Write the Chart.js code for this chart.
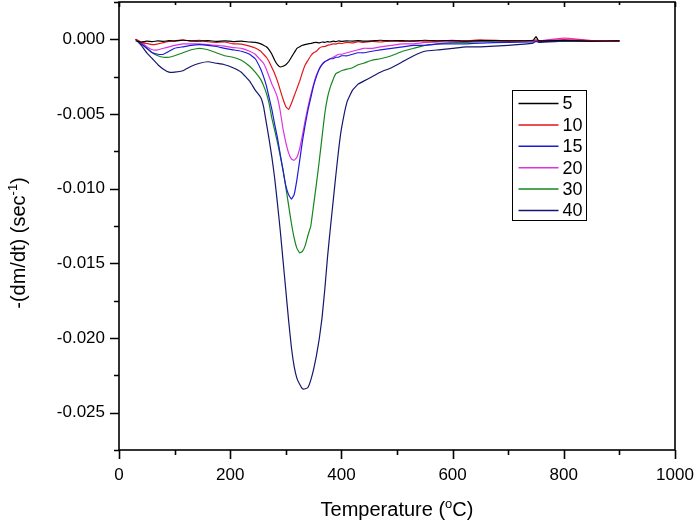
<!DOCTYPE html>
<html>
<head>
<meta charset="utf-8">
<title>DTG curves</title>
<script src="https://cdn.jsdelivr.net/npm/chart.js@4/dist/chart.umd.min.js"></script>
<style>
  html, body { margin: 0; padding: 0; background: #fff; }
  #wrap { width: 694px; height: 523px; }
</style>
</head>
<body>
<div id="wrap"><canvas id="dtg" width="694" height="523"></canvas></div>
<script>
/* DTG: -(dm/dt) vs temperature, six heating-rate runs */

// temperature grid (°C)
const temps = [
  30, 40, 50, 60, 70, 80, 90, 100, 115, 130,
  145, 160, 175, 190, 205, 220, 235, 245, 255, 260,
  265, 270, 275, 280, 285, 290, 295, 300, 305, 310,
  315, 320, 325, 330, 335, 340, 345, 350, 355, 360,
  365, 370, 375, 380, 385, 390, 395, 400, 410, 420,
  430, 440, 455, 470, 490, 510, 530, 550, 575, 600,
  625, 650, 700, 745, 750, 755, 800, 850, 900
];

const rate5 = [
  -0.0001, -0.00018, -0.00012, -0.00016, -0.0001, -0.00014, -0.00008, -0.00012, -0.00006, -0.0001,
  -0.00012, -0.00008, -0.00014, -0.0001, -0.00015, -0.00012, -0.00018, -0.0002, -0.0003, -0.0004,
  -0.0005, -0.0007, -0.001, -0.0014, -0.0017, -0.00185, -0.0018, -0.0017, -0.0015, -0.0012,
  -0.0009, -0.0006, -0.0005, -0.0004, -0.00035, -0.0003, -0.00028, -0.00022, -0.0002, -0.00024,
  -0.00018, -0.0002, -0.00015, -0.00018, -0.00012, -0.00016, -0.0001, -0.00014, -0.0001, -0.00012,
  -0.00008, -0.00012, -0.0001, -0.00006, -0.0001, -0.00008, -0.00012, -0.00006, -0.0001, -0.00008,
  -0.00012, -0.00008, -0.0001, -0.00006, 0.00018, -0.0001, -0.00008, -0.00012, -0.0001
];

const rate10 = [
  0, -0.0002, -0.00028, -0.00036, -0.0003, -0.00022, -0.00014, -0.0001, -0.00004, -0.00012,
  -0.00006, -0.00016, -0.0002, -0.00018, -0.0003, -0.00032, -0.00045, -0.00058, -0.0008, -0.001,
  -0.0012, -0.0015, -0.0019, -0.0023, -0.0028, -0.0034, -0.004, -0.0045, -0.0047, -0.0043,
  -0.0038, -0.0033, -0.0028, -0.0022, -0.0017, -0.0014, -0.0011, -0.0009, -0.0008, -0.0006,
  -0.0005, -0.00048, -0.0004, -0.00036, -0.0003, -0.00032, -0.00026, -0.00028, -0.0002, -0.00024,
  -0.00016, -0.0002, -0.00014, -0.00018, -0.0001, -0.00014, -0.00008, -0.00012, -0.0001, -0.00006,
  -0.0001, -0.00004, -0.0001, -0.00008, -0.00004, -0.0001, -0.00002, -0.00008, -0.0001
];

const rate15 = [
  0, -0.0003, -0.0006, -0.0009, -0.001, -0.001, -0.0008, -0.0006, -0.0005, -0.0004,
  -0.00036, -0.0004, -0.00048, -0.0006, -0.0007, -0.0008, -0.001, -0.0013, -0.002, -0.0025,
  -0.0031, -0.0039, -0.0047, -0.0057, -0.0066, -0.0077, -0.0088, -0.0098, -0.0104, -0.0107,
  -0.0104, -0.0094, -0.0081, -0.0068, -0.0057, -0.0047, -0.0039, -0.0031, -0.0025, -0.002,
  -0.0017, -0.0015, -0.0014, -0.0013, -0.0013, -0.0012, -0.0012, -0.0011, -0.0011, -0.001,
  -0.0009, -0.0009, -0.0008, -0.0007, -0.0006, -0.0005, -0.0004, -0.0004, -0.0003, -0.0003,
  -0.0003, -0.00025, -0.0002, -0.00018, -0.00015, -0.00015, -0.0001, -0.00012, -0.0001
];

const rate20 = [
  0, -0.0002, -0.0005, -0.0007, -0.0007, -0.0006, -0.0005, -0.0004, -0.0003, -0.0003,
  -0.0003, -0.00036, -0.0004, -0.00046, -0.00055, -0.0006, -0.0008, -0.001, -0.0014, -0.0016,
  -0.002, -0.0025, -0.003, -0.0034, -0.0039, -0.0048, -0.006, -0.0069, -0.0076, -0.008,
  -0.0081, -0.0079, -0.0073, -0.0064, -0.0054, -0.0045, -0.0037, -0.003, -0.0024, -0.002,
  -0.0017, -0.0015, -0.0014, -0.0013, -0.0012, -0.0011, -0.001, -0.001, -0.0009, -0.0008,
  -0.0007, -0.0006, -0.0006, -0.0005, -0.0004, -0.0003, -0.0003, -0.0002, -0.00018, -0.00015,
  -0.00012, -0.0001, -0.00008, -0.0001, -0.00006, -0.0001, 0.00008, -0.00008, -0.0001
];

const rate30 = [
  0, -0.0003, -0.0006, -0.0009, -0.0011, -0.0012, -0.0012, -0.0011, -0.0009, -0.0007,
  -0.0006, -0.0007, -0.0009, -0.0011, -0.0012, -0.0014, -0.0018, -0.0022, -0.0027, -0.0031,
  -0.0036, -0.0043, -0.0053, -0.0061, -0.0069, -0.0078, -0.0087, -0.0099, -0.0111, -0.0123,
  -0.0133, -0.014, -0.0143, -0.0142, -0.0138, -0.0131, -0.0125, -0.0111, -0.0097, -0.0082,
  -0.0066, -0.005, -0.0039, -0.0032, -0.0027, -0.0023, -0.0022, -0.0021, -0.002, -0.0019,
  -0.0017, -0.0016, -0.0014, -0.0013, -0.0011, -0.0008, -0.0006, -0.0004, -0.0003, -0.0002,
  -0.0002, -0.00015, -0.0001, -0.0001, -0.00008, -0.0001, -0.0001, -0.00012, -0.0001
];

const rate40 = [
  0, -0.0004, -0.0009, -0.0013, -0.0017, -0.002, -0.0022, -0.0022, -0.0021, -0.0018,
  -0.0016, -0.0015, -0.0016, -0.0017, -0.0019, -0.0022, -0.0028, -0.0034, -0.0039, -0.0045,
  -0.0056, -0.0067, -0.0079, -0.0093, -0.011, -0.0128, -0.0148, -0.0168, -0.0188, -0.0206,
  -0.0219, -0.0227, -0.0231, -0.0234, -0.0234, -0.0233, -0.0228, -0.0221, -0.0212, -0.0201,
  -0.0187, -0.0168, -0.0146, -0.0127, -0.0109, -0.0091, -0.0074, -0.006, -0.0042, -0.0034,
  -0.003, -0.0028, -0.0025, -0.0022, -0.0019, -0.0015, -0.0011, -0.0008, -0.0007, -0.0006,
  -0.0005, -0.0005, -0.0004, -0.00025, -0.0001, -0.0002, -0.00012, -0.0001, -0.0001
];

const seriesLabels = ['5', '10', '15', '20', '30', '40'];
const seriesValues = [rate5, rate10, rate15, rate20, rate30, rate40];

// axis ticks
const xMajorTicks = [0, 200, 400, 600, 800, 1000];
const xMinorTicks = [100, 300, 500, 700, 900];
const yMajorTicks = [0, -0.005, -0.010, -0.015, -0.020, -0.025];
const yMinorTicks = [0.0025, -0.0025, -0.0075, -0.0125, -0.0175, -0.0225, -0.0275];

const lineColors = ['#000000', '#e3151b', '#1c1cd8', '#e030e0', '#15861c', '#16166e'];
const FONT = "'Liberation Sans', Arial, sans-serif";

// no extra room for edge labels: plot box stays where the original has it
function noEdgePadding(s) {
  s.paddingLeft = 0; s.paddingRight = 0; s.paddingTop = 0; s.paddingBottom = 0;
}

// frame, ticks, axis titles and the boxed legend
const decorPlugin = {
  id: 'decor',
  afterDraw(chart) {
    const { ctx, chartArea: a, scales: { x, y } } = chart;
    ctx.save();
    ctx.strokeStyle = '#000';
    ctx.lineWidth = 1.6;
    ctx.strokeRect(a.left, a.top, a.right - a.left, a.bottom - a.top);

    ctx.beginPath();
    xMajorTicks.forEach(v => {
      const px = Math.round(x.getPixelForValue(v)) + 0.5;
      ctx.moveTo(px, a.bottom); ctx.lineTo(px, a.bottom + 9);
      ctx.moveTo(px, a.top); ctx.lineTo(px, a.top + 5);
    });
    xMinorTicks.forEach(v => {
      const px = Math.round(x.getPixelForValue(v)) + 0.5;
      ctx.moveTo(px, a.bottom); ctx.lineTo(px, a.bottom + 5);
      ctx.moveTo(px, a.top); ctx.lineTo(px, a.top + 3);
    });
    yMajorTicks.forEach(v => {
      const py = Math.round(y.getPixelForValue(v)) + 0.5;
      ctx.moveTo(a.left, py); ctx.lineTo(a.left - 9, py);
    });
    yMinorTicks.forEach(v => {
      const py = Math.round(y.getPixelForValue(v)) + 0.5;
      ctx.moveTo(a.left, py); ctx.lineTo(a.left - 5, py);
    });
    ctx.stroke();

    // axis titles with superscripts
    ctx.fillStyle = '#000';
    ctx.textBaseline = 'alphabetic';
    ctx.textAlign = 'left';
    const drawSup = (parts, cx, cy) => {
      let total = 0;
      parts.forEach(p => { ctx.font = p.sup ? '13px ' + FONT : '20px ' + FONT; total += ctx.measureText(p.t).width; });
      let cur = cx - total / 2;
      parts.forEach(p => {
        ctx.font = p.sup ? '13px ' + FONT : '20px ' + FONT;
        ctx.fillText(p.t, cur, p.sup ? cy - 8 : cy);
        cur += ctx.measureText(p.t).width;
      });
    };
    drawSup([{ t: 'Temperature (' }, { t: 'o', sup: true }, { t: 'C)' }], (a.left + a.right) / 2, 516);
    ctx.save();
    ctx.translate(25, 243);
    ctx.rotate(-Math.PI / 2);
    drawSup([{ t: '-(dm/dt) (sec' }, { t: '-1', sup: true }, { t: ')' }], 0, 0);
    ctx.restore();

    // legend box
    const bx = 512.5, by = 90.5, bw = 74, bh = 130;
    ctx.lineWidth = 1;
    ctx.strokeStyle = '#000';
    ctx.strokeRect(bx, by, bw, bh);
    ctx.font = '18px ' + FONT;
    ctx.textBaseline = 'middle';
    chart.data.datasets.forEach((ds, i) => {
      const ry = by + 13 + i * 21.4;
      ctx.strokeStyle = ds.borderColor;
      ctx.lineWidth = 1.5;
      ctx.beginPath();
      ctx.moveTo(bx + 6, ry); ctx.lineTo(bx + 46, ry);
      ctx.stroke();
      ctx.fillText(ds.label, bx + 50, ry + 1);
    });
    ctx.restore();
  }
};

new Chart(document.getElementById('dtg'), {
  type: 'line',
  data: {
    datasets: seriesValues.map((vals, i) => ({
      label: seriesLabels[i],
      data: temps.map((t, j) => ({ x: t, y: vals[j] })),
      borderColor: lineColors[i],
      borderWidth: 1.2,
      pointRadius: 0,
      tension: 0.1,
      fill: false
    }))
  },
  options: {
    responsive: false,
    animation: false,
    layout: { padding: { top: 2, right: 19, left: 0, bottom: 0 } },
    plugins: { legend: { display: false }, tooltip: { enabled: false } },
    scales: {
      x: {
        type: 'linear',
        min: 0,
        max: 1000,
        afterBuildTicks: s => { s.ticks = xMajorTicks.map(v => ({ value: v })); },
        afterFit: s => { s.height = 73; noEdgePadding(s); },
        grid: { display: false, drawTicks: false },
        border: { display: false },
        ticks: {
          color: '#000',
          font: { family: FONT, size: 17 },
          padding: 15,
          maxRotation: 0,
          autoSkip: false,
          callback: v => String(v)
        }
      },
      y: {
        type: 'linear',
        min: -0.0275,
        max: 0.0025,
        afterBuildTicks: s => { s.ticks = yMajorTicks.map(v => ({ value: v })); },
        afterFit: s => { s.width = 119; noEdgePadding(s); },
        grid: { display: false, drawTicks: false },
        border: { display: false },
        ticks: {
          color: '#000',
          font: { family: FONT, size: 17 },
          padding: 14,
          autoSkip: false,
          callback: v => v.toFixed(3)
        }
      }
    }
  },
  plugins: [decorPlugin]
});
</script>
</body>
</html>
